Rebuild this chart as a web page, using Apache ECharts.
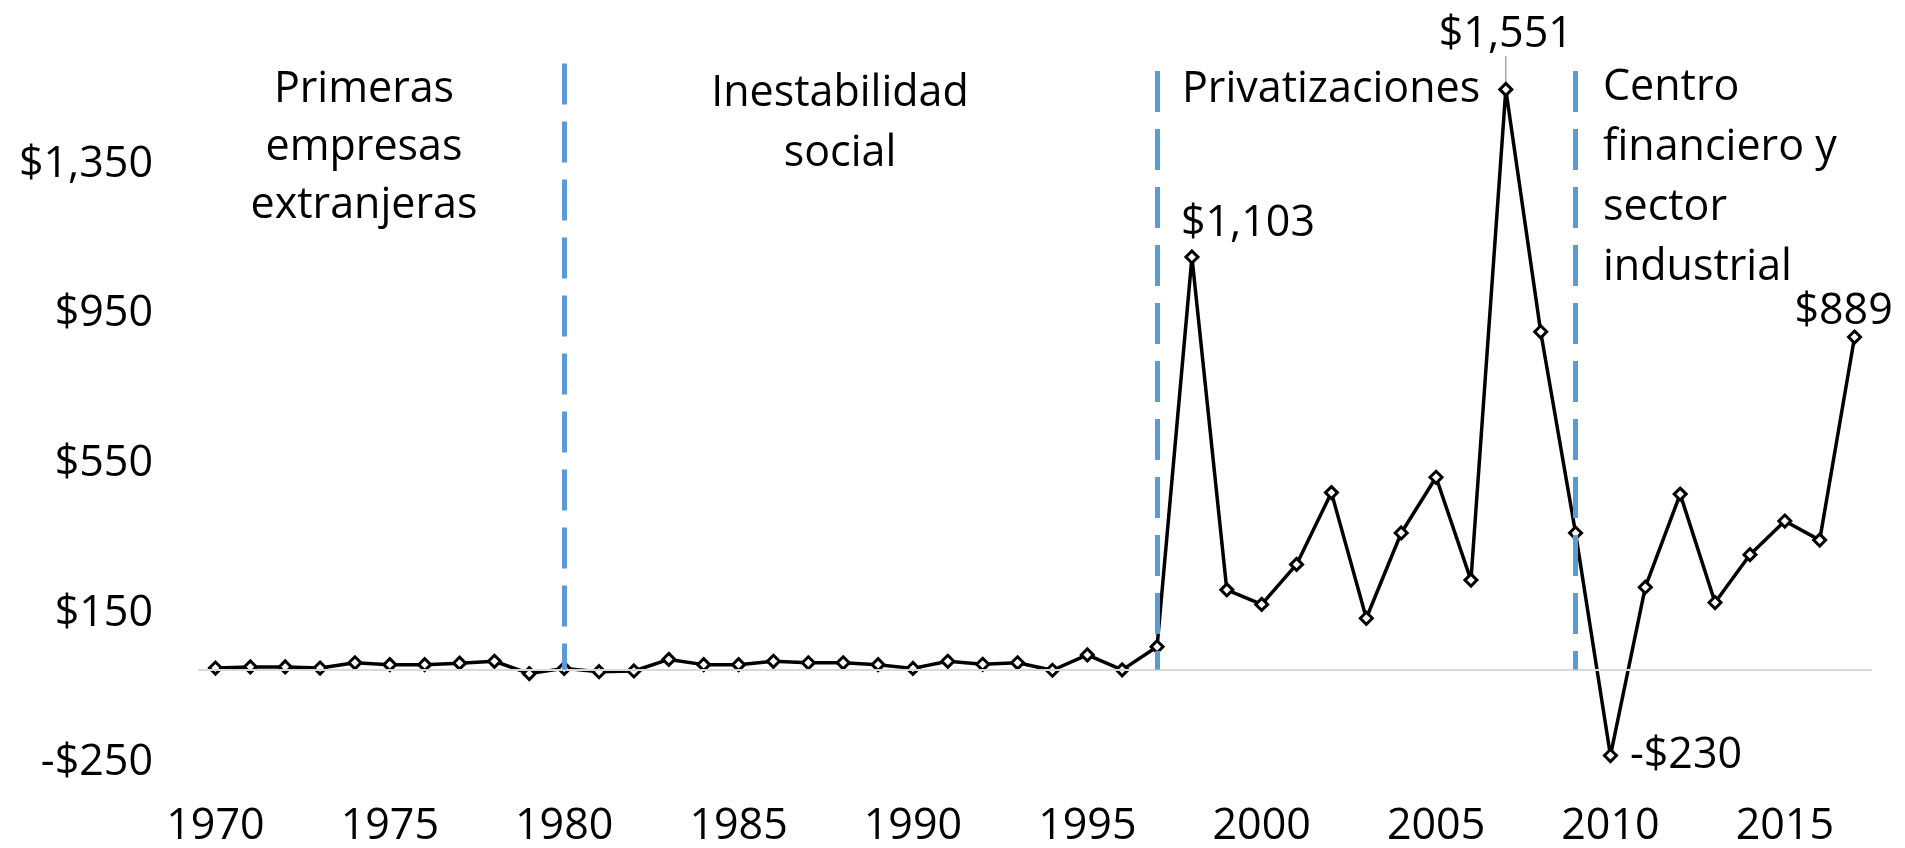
<!DOCTYPE html>
<html>
<head>
<meta charset="utf-8">
<script src="https://cdn.jsdelivr.net/npm/echarts@6/dist/echarts.min.js"></script>
<style>
  html, body { margin: 0; padding: 0; background: #fff; }
  #chart { width: 1905px; height: 848px; }
</style>
</head>
<body>
<div id="chart"></div>
<script>
// años (categorías del eje x)
const years = ['1970','1971','1972','1973','1974','1975','1976','1977','1978','1979',
  '1980','1981','1982','1983','1984','1985','1986','1987','1988','1989',
  '1990','1991','1992','1993','1994','1995','1996','1997','1998','1999',
  '2000','2001','2002','2003','2004','2005','2006','2007','2008','2009',
  '2010','2011','2012','2013','2014','2015','2016','2017']

// valores
const values = [4, 7, 7, 4, 18, 13, 13, 17, 22, -11,
  3, -6, -4, 27, 13, 13, 22, 18, 18, 13,
  3, 22, 14, 18, -2, 39, -1, 61, 1103, 213,
  174, 281, 473, 137, 365, 514, 239, 1551, 903, 365,
  -230, 220, 469, 179, 307, 397, 346, 889]

// años con etiqueta de valor
const labelledYears = ['1998', '2007', '2010', '2017']

// líneas divisorias de periodos (desde 0 hasta el tope)
const periodBreaks = ['1980', '1997', '2009']
const breakTops = [1620, 1600, 1600]

// textos de los periodos
const periodNames = [
  'Primeras\nempresas\nextranjeras',
  'Inestabilidad\nsocial',
  'Privatizaciones',
  'Centro\nfinanciero y\nsector\nindustrial'
]

// eje y
const yMin = -250
const yMax = 1750
const yStep = 400

const FONT = '"Open Sans", "Noto Sans", sans-serif'
const FS = 43

const money = (v) => (v < 0 ? '-$' : '$') + Math.abs(v).toLocaleString('en-US')

const chart = echarts.init(document.getElementById('chart'))

// posición de cada etiqueta
const labelStyle = {
  '1998': { position: 'top', distance: 4 },
  '2007': { position: 'top', distance: 4 },
  '2010': { position: 'right', distance: 12 },
  '2017': { position: 'top', distance: 0 }
}
// desplazamientos finos de las etiquetas
const labelShift = {
  '1998': { dx: 56, dy: 0 },
  '2007': { dx: 0, dy: -22 },
  '2017': { dx: -11, dy: 4 }
}

const seriesData = values.map((v, i) => {
  const y = years[i]
  if (labelledYears.indexOf(y) < 0) return v
  const item = {
    value: v,
    label: Object.assign({
      show: true,
      formatter: (p) => money(p.value),
      fontSize: FS,
      fontFamily: FONT,
      color: '#000'
    }, labelStyle[y])
  }
  if (y === '2007') {
    item.labelLine = { show: true, lineStyle: { color: '#a6a6a6', width: 1.5 } }
  }
  return item
})

const breakLines = periodBreaks.map((y, i) => [
  { coord: [y, breakTops[i]], lineStyle: { color: '#5b9bd5', width: 5, type: [41, 17] } },
  { coord: [y, 0] }
])

const option = {
  animation: false,
  textStyle: { fontFamily: FONT },
  grid: { left: 198, right: 33, top: 15, bottom: 84 },
  xAxis: {
    type: 'category',
    data: years,
    boundaryGap: true,
    axisLine: { show: false },
    axisTick: { show: false },
    axisLabel: {
      interval: 4,
      fontSize: FS,
      fontFamily: FONT,
      color: '#000',
      margin: 42
    },
    splitLine: { show: false }
  },
  yAxis: {
    type: 'value',
    min: yMin,
    max: yMax,
    interval: yStep,
    axisLine: { show: false },
    axisTick: { show: false },
    splitLine: { show: false },
    axisLabel: {
      showMaxLabel: false,
      fontSize: FS,
      fontFamily: FONT,
      color: '#000',
      margin: 45,
      formatter: money
    }
  },
  series: [
    {
      // línea del cero y divisiones de periodos
      type: 'line',
      data: [],
      z: 1,
      markLine: {
        silent: true,
        symbol: ['none', 'none'],
        label: { show: false },
        data: [
          { yAxis: 0, lineStyle: { color: '#d9d9d9', width: 2, type: 'solid' } }
        ].concat(breakLines)
      }
    },
    {
      name: 'IED',
      type: 'line',
      z: 3,
      data: seriesData,
      symbol: 'diamond',
      symbolSize: 12,
      showAllSymbol: true,
      lineStyle: { color: '#000', width: 3.5 },
      itemStyle: { color: '#fff', borderColor: '#000', borderWidth: 3 },
      labelLayout: (params) => {
        const s = labelShift[years[params.dataIndex]]
        return s ? { dx: s.dx, dy: s.dy } : {}
      }
    }
  ],
  graphic: [
    {
      type: 'text', x: 364, y: 61,
      style: { text: periodNames[0], fontSize: FS, fontFamily: FONT, fill: '#000', align: 'center', verticalAlign: 'top', lineHeight: 58 }
    },
    {
      type: 'text', x: 840, y: 64,
      style: { text: periodNames[1], fontSize: FS, fontFamily: FONT, fill: '#000', align: 'center', verticalAlign: 'top', lineHeight: 60 }
    },
    {
      type: 'text', x: 1182, y: 60,
      style: { text: periodNames[2], fontSize: FS, fontFamily: FONT, fill: '#000', align: 'left', verticalAlign: 'top', lineHeight: 60 }
    },
    {
      type: 'text', x: 1603, y: 58,
      style: { text: periodNames[3], fontSize: FS, fontFamily: FONT, fill: '#000', align: 'left', verticalAlign: 'top', lineHeight: 60 }
    }
  ]
}

chart.setOption(option)
</script>
</body>
</html>
